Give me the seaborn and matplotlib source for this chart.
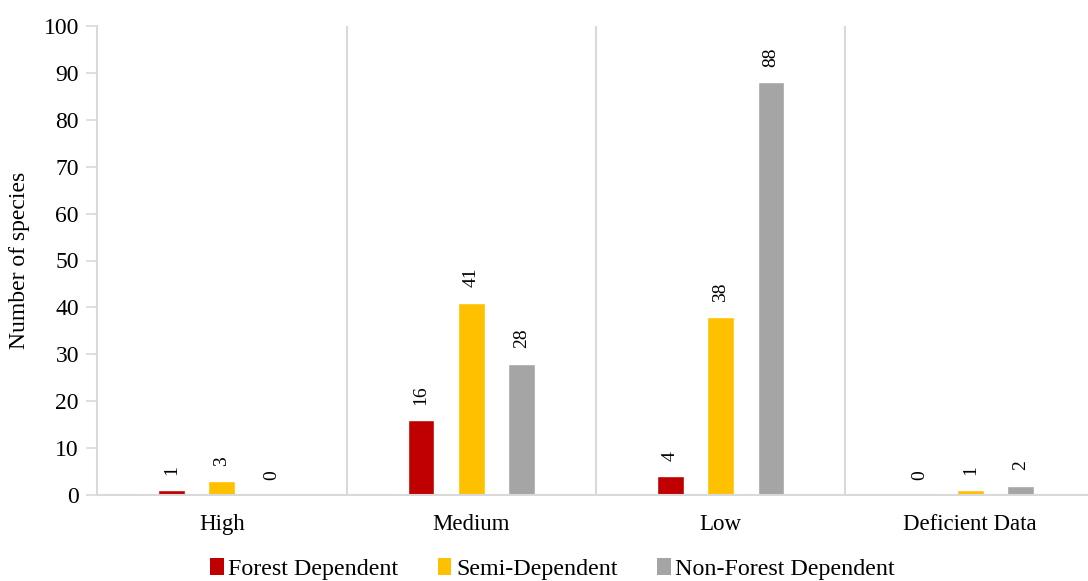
import matplotlib
matplotlib.use("Agg")
import matplotlib.pyplot as plt
import seaborn as sns
import pandas as pd
from matplotlib.patches import Patch

categories = ["High", "Medium", "Low", "Deficient Data"]
groups = ["Forest Dependent", "Semi-Dependent", "Non-Forest Dependent"]
forest_dependent = [1, 16, 4, 0]
semi_dependent = [3, 41, 38, 1]
non_forest_dependent = [0, 28, 88, 2]
colors = ["#C00000", "#FFC000", "#A5A5A5"]

rows = []
for g, vals in zip(groups, [forest_dependent, semi_dependent, non_forest_dependent]):
    for c, v in zip(categories, vals):
        rows.append({"Category": c, "Group": g, "Count": v})
df = pd.DataFrame(rows)

sns.set_theme(style="white")
plt.rcParams["font.family"] = ["Liberation Serif", "DejaVu Serif"]
plt.rcParams["text.color"] = "#000000"

fig = plt.figure(figsize=(10.88, 5.81), dpi=100)
ax = fig.add_axes([97 / 1088, 1 - 495 / 581, 1 - 97 / 1088, (495 - 26) / 581])

sns.barplot(data=df, x="Category", y="Count", hue="Group", order=categories,
            hue_order=groups, palette=colors, width=0.607, gap=0.475,
            saturation=1, legend=False, ax=ax, errorbar=None)

for cont in ax.containers:
    ax.bar_label(cont, labels=[f"{int(b.get_height())}" for b in cont],
                 rotation=90, padding=11, fontsize=14, color="#000000")

ax.set_ylim(0, 100)
ax.set_yticks(range(0, 101, 10))
ax.set_xlim(-0.5, 3.5 - 7 / 249.5)

# separators between categories
for xs in [0.5, 1.5, 2.5]:
    ax.axvline(xs, color="#D9D9D9", lw=1.5, zorder=0)

for side in ["top", "right"]:
    ax.spines[side].set_visible(False)
for side in ["left", "bottom"]:
    ax.spines[side].set_color("#D9D9D9")
    ax.spines[side].set_linewidth(1.5)

ax.tick_params(axis="y", left=True, length=8, width=1.2, color="#D9D9D9",
               labelsize=17, pad=5, labelcolor="#000000")
ax.tick_params(axis="x", bottom=False, labelsize=16.5, pad=8, labelcolor="#000000")
ax.set_xlabel("")
ax.set_ylabel("Number of species", fontsize=17, labelpad=10, color="#000000")

handles = [Patch(facecolor=c, edgecolor="none", label=g) for c, g in zip(colors, groups)]
leg = fig.legend(handles=handles, loc="lower center", bbox_to_anchor=(0.508, -0.035),
                 ncol=3, frameon=False, fontsize=17.3, handlelength=0.55,
                 handleheight=0.75, handletextpad=0.2, columnspacing=1.65)
for t in leg.get_texts():
    t.set_color("#000000")

fig.savefig("out.png", dpi=100)
